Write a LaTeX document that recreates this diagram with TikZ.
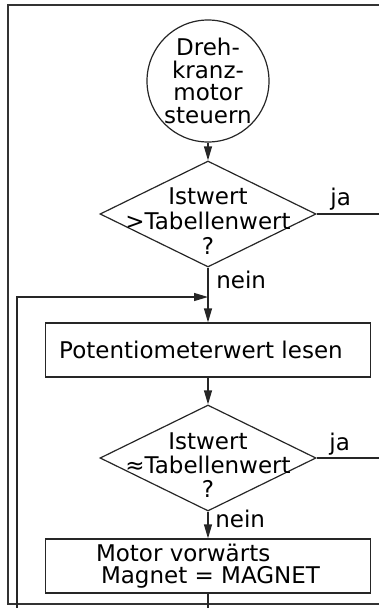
\documentclass[tikz,border=0pt]{standalone}
\usepackage{fontspec}
\setmainfont{DejaVu Sans}
\usetikzlibrary{shapes.geometric,arrows.meta}

\tikzset{every picture/.style={line width=0.75pt}}
\tikzset{
  flow/.style={line width=1.2pt,draw=black!85},
  flowarrow/.style={flow,-{Triangle[length=14pt,width=8pt]}},
  frameline/.style={line width=2pt,draw=black!80},
  terminal/.style={flow,circle,minimum size=122pt,inner sep=0pt},
  decision/.style={flow,diamond,minimum width=216pt,minimum height=106pt,inner sep=0pt},
  process/.style={flow,rectangle,minimum width=325pt,minimum height=54pt,inner sep=0pt},
  lbl/.style={inner sep=0pt,font=\fontsize{23}{22}\selectfont}
}

\begin{document}
\begin{tikzpicture}[x=1pt,y=1pt,yscale=-1]
\useasboundingbox (0,0) rectangle (379,608);

%Frame
\draw [frameline] (379,5) -- (8,5) -- (8,604) -- (379,604) ;

%Shape: Circle
\node [terminal] (start) at (208,81) {};
%Flowchart: Decision
\node [decision] (test1) at (208,214) {};
%Flowchart: Process
\node [process] (read) at (208,350) {};
%Flowchart: Decision
\node [decision] (test2) at (208,458) {};
%Flowchart: Process
\node [process] (move) at (208,566) {};

%Free ends
\coordinate (ja1) at (379,214);
\coordinate (ja2) at (379,458);
\coordinate (loopin) at (208,297);
\coordinate (loopleft) at (17,297);
\coordinate (loopend) at (17,608);
\coordinate (out) at (208,608);

%Straight Lines
\draw [flowarrow] (start) -- (test1) ;
\draw [flow] (test1.east) -- (ja1) ;
\draw [flow] (test1.south) -- (loopin) ;
\draw [flowarrow] (loopend) -- (loopleft) -- (loopin) ;
\draw [flowarrow] (loopin) -- (read.north) ;
\draw [flowarrow] (read.south) -- (test2.north) ;
\draw [flow] (test2.east) -- (ja2) ;
\draw [flowarrow] (test2.south) -- (move.north) ;
\draw [flow] (move.south) -- (out) ;

% Text Node
\node [lbl,align=center,font=\fontsize{23}{22.5}\selectfont] (starttext) at (208,81) {Dreh-\\kranz-\\motor\\steuern};
% Text Node
\node [lbl,align=center,font=\fontsize{23}{25}\selectfont] (q1text) at (208,221) {Istwert\\>Tabellenwert\\?};
% Text Node
\node [lbl,anchor=base west] (ja1text) at (330,205) {ja};
% Text Node
\node [lbl,anchor=base west] (nein1text) at (216,288) {nein};
% Text Node
\node [lbl] (readtext) at (201,350) {Potentiometerwert lesen};
% Text Node
\node [lbl,align=center,font=\fontsize{23}{24}\selectfont] (q2text) at (208,465) {Istwert\\≈Tabellenwert\\?};
% Text Node
\node [lbl,anchor=base west] (ja2text) at (329,450) {ja};
% Text Node
\node [lbl,anchor=base west] (nein2text) at (215,527) {nein};
% Text Node
\node [lbl,align=left] (movetext) at (208,566) {Motor vorwärts\\\hspace{5pt}Magnet = MAGNET};

\end{tikzpicture}
\end{document}
